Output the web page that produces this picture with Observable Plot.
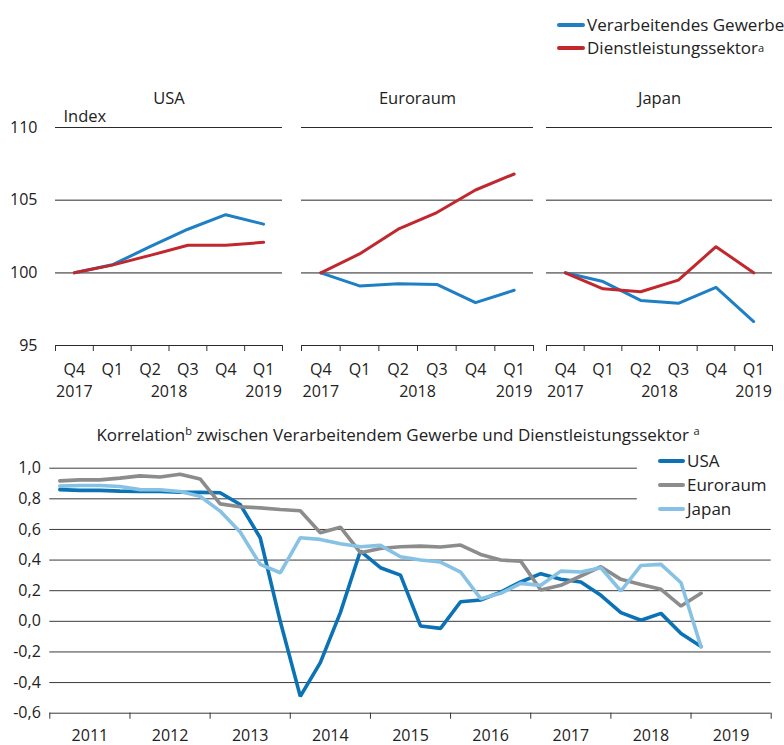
<!DOCTYPE html>
<html>
<head>
<meta charset="utf-8">
<script src="https://cdn.jsdelivr.net/npm/d3@7"></script>
<script src="https://cdn.jsdelivr.net/npm/@observablehq/plot@0.6"></script>
<style>
  html, body { margin: 0; padding: 0; background: #fff; }
  #root { position: relative; width: 784px; height: 745px; overflow: hidden; font-family: "Open Sans", "Noto Sans", sans-serif; color: #222; }
  .leg { position: absolute; display: flex; align-items: center; font-size: 17px; line-height: 20px; white-space: nowrap; }
  .leg .sw { display: inline-block; width: 28px; height: 3.5px; border-radius: 2px; margin-right: 2px; }
  sup { font-size: 0.65em; vertical-align: 0.55em; line-height: 0; }
</style>
</head>
<body>
<div id="root"></div>
<script>
// ---------- Data ----------
const regions = ["USA", "Euroraum", "Japan"];
const sectors = ["Verarbeitendes Gewerbe", "Dienstleistungssektor"];
const quarterLabels = ["Q4", "Q1", "Q2", "Q3", "Q4", "Q1"];
const yearLabels = ["2017", "2018", "2019"];
const yearLabelPos = [0.5, 3, 5.5];           // in quarter-index units
const topYTicks = [95, 100, 105, 110];

const usaManufacturing  = [100, 100.55, 101.8, 103.0, 104.0, 103.35];
const usaServices       = [100, 100.53, 101.2, 101.9, 101.9, 102.1];
const euroManufacturing = [100, 99.1, 99.25, 99.2, 97.95, 98.8];
const euroServices      = [100, 101.3, 103.0, 104.15, 105.7, 106.8];
const japanManufacturing= [100, 99.4, 98.1, 97.9, 99.0, 96.65];
const japanServices     = [100, 98.9, 98.7, 99.5, 101.8, 100.0];

const countries = ["USA", "Euroraum", "Japan"];
const startYear = 2011;                        // first quarter: 2011 Q1
const corrUSA = [0.86, 0.855, 0.855, 0.85, 0.848, 0.848, 0.843, 0.842, 0.84, 0.763, 0.546, 0.0, -0.49, -0.27, 0.057, 0.459, 0.35, 0.302, -0.03, -0.046, 0.128, 0.139, 0.191, 0.257, 0.311, 0.275, 0.257, 0.17, 0.057, 0.007, 0.052, -0.08, -0.165];
const corrEuro = [0.917, 0.924, 0.924, 0.935, 0.95, 0.943, 0.961, 0.93, 0.767, 0.748, 0.741, 0.73, 0.722, 0.578, 0.615, 0.448, 0.476, 0.487, 0.491, 0.485, 0.498, 0.437, 0.4, 0.393, 0.204, 0.235, 0.296, 0.357, 0.274, 0.241, 0.209, 0.1, 0.183];
const corrJapan = [0.883, 0.887, 0.887, 0.88, 0.86, 0.859, 0.848, 0.817, 0.72, 0.583, 0.372, 0.317, 0.546, 0.535, 0.507, 0.487, 0.496, 0.422, 0.4, 0.387, 0.322, 0.148, 0.183, 0.248, 0.235, 0.328, 0.322, 0.35, 0.198, 0.365, 0.372, 0.252, -0.167];
const bottomYTicks = [-0.6, -0.4, -0.2, 0, 0.2, 0.4, 0.6, 0.8, 1.0];
const bottomYears = [2011, 2012, 2013, 2014, 2015, 2016, 2017, 2018, 2019];
const legendGridEnd = 2018.33;                 // top two gridlines stop before legend

// ---------- Styles ----------
const sectorColors = ["#1f7fc4", "#c0282e"];
const countryColors = ["#0b72b6", "#8c8c8c", "#87c2e5"];
const font = "'Open Sans', 'Noto Sans', sans-serif";
const root = document.getElementById("root");

function place(el, left, top) {
  el.style.position = "absolute";
  el.style.left = left + "px";
  el.style.top = top + "px";
  root.appendChild(el);
}

// ---------- Top panels ----------
const panelSeries = {
  "USA": [usaManufacturing, usaServices],
  "Euroraum": [euroManufacturing, euroServices],
  "Japan": [japanManufacturing, japanServices]
};
const panelGeom = [
  {left: 0,   ml: 55, pw: 227, mr: 6},
  {left: 297, ml: 4,  pw: 232, mr: 6},
  {left: 542, ml: 4,  pw: 226, mr: 12}
];

regions.forEach((region, k) => {
  const g = panelGeom[k];
  const [man, serv] = panelSeries[region];
  const rows = [
    ...man.map((v, i) => ({i, v, s: sectors[0]})),
    ...serv.map((v, i) => ({i, v, s: sectors[1]}))
  ];
  const svg = Plot.plot({
    width: g.ml + g.pw + g.mr,
    height: 400,
    marginTop: 127, marginBottom: 55, marginLeft: g.ml, marginRight: g.mr,
    style: {fontFamily: font, fontSize: "16px", color: "#222", background: "transparent", overflow: "visible"},
    x: {domain: [0, 6], axis: null},
    y: {domain: [95, 110], axis: null},
    color: {domain: sectors, range: sectorColors},
    marks: [
      Plot.ruleY(topYTicks.filter(d => d !== 100), {stroke: "#2a2a2a", strokeWidth: 1}),
      Plot.ruleY([100], {stroke: "#808080", strokeWidth: 1.6}),
      Plot.axisX({ticks: d3.range(7), tickSize: 6, tickFormat: () => "", stroke: "#333", label: null}),
      k === 0 ? Plot.axisY({ticks: topYTicks, tickSize: 0, tickPadding: 18, fontSize: 16, label: null}) : null,
      Plot.text(quarterLabels, {x: (d, i) => i + 0.5, text: d => d, frameAnchor: "bottom", dy: 24.5, lineAnchor: "middle", fontSize: 16}),
      Plot.text(yearLabels, {x: (d, i) => yearLabelPos[i], text: d => d, frameAnchor: "bottom", dy: 46.5, lineAnchor: "middle", fontSize: 16}),
      Plot.line(rows, {x: d => d.i + 0.5, y: "v", z: "s", stroke: "s", strokeWidth: 3}),
      Plot.text([region], {frameAnchor: "top", dy: -29, lineAnchor: "middle", fontSize: 16.5}),
      k === 0 ? Plot.text(["Index"], {frameAnchor: "top-left", textAnchor: "start", dx: 8, dy: -11, lineAnchor: "middle", fontSize: 16.5}) : null
    ]
  });
  place(svg, g.left, 0);
});

// top legend
const topLegendY = [25, 48];
sectors.forEach((s, i) => {
  const d = document.createElement("div");
  d.className = "leg";
  d.innerHTML = `<span class="sw" style="background:${sectorColors[i]}"></span>${i === 1 ? s + "<sup>a</sup>" : s}`;
  place(d, 557, topLegendY[i] - 10);
});

// ---------- Bottom chart ----------
const title = document.createElement("div");
title.style.width = "796px";
title.style.textAlign = "center";
title.style.fontSize = "17px";
title.style.lineHeight = "20px";
title.style.whiteSpace = "nowrap";
title.innerHTML = "Korrelation<sup>b</sup> zwischen Verarbeitendem Gewerbe und Dienstleistungssektor <sup>a</sup>";
place(title, 0, 425);

const corrSeries = [corrUSA, corrEuro, corrJapan];
const corrRows = [];
countries.forEach((c, k) => {
  corrSeries[k].forEach((v, i) => {
    corrRows.push({c, t: startYear + (i + 0.5) / 4, v});
  });
});
const deFmt = d => d.toFixed(1).replace(".", ",");

const bottom = Plot.plot({
  width: 784,
  height: 305,
  marginTop: 27.7, marginBottom: 32.3, marginLeft: 49.3, marginRight: 13.3,
  style: {fontFamily: font, fontSize: "16px", color: "#222", background: "transparent", overflow: "visible"},
  x: {domain: [2011, 2020], axis: null},
  y: {domain: [-0.6, 1.0], axis: null},
  color: {domain: countries, range: countryColors},
  marks: [
    Plot.ruleY(bottomYTicks, {x1: 2011, x2: d => d >= 0.79 ? legendGridEnd : 2020, stroke: "#3a3a3a", strokeWidth: 1}),
    Plot.axisY({ticks: bottomYTicks, tickSize: 0, tickPadding: 9, tickFormat: deFmt, fontSize: 16, label: null}),
    Plot.axisX({ticks: d3.range(2011, 2021), tickSize: 6, tickFormat: () => "", stroke: "#333", label: null}),
    Plot.text(bottomYears, {x: d => d + 0.5, text: d => String(d), frameAnchor: "bottom", dy: 22.5, lineAnchor: "middle", fontSize: 16}),
    Plot.line(corrRows, {x: "t", y: "v", z: "c", stroke: "c", strokeWidth: 3.6, strokeLinejoin: "miter"})
  ]
});
place(bottom, 0, 440);

// bottom legend
const bottomLegendY = [461, 484.5, 509];
countries.forEach((c, i) => {
  const d = document.createElement("div");
  d.className = "leg";
  d.innerHTML = `<span class="sw" style="width:27px;height:4px;background:${countryColors[i]}"></span>${c}`;
  place(d, 658, bottomLegendY[i] - 10);
});
</script>
</body>
</html>
